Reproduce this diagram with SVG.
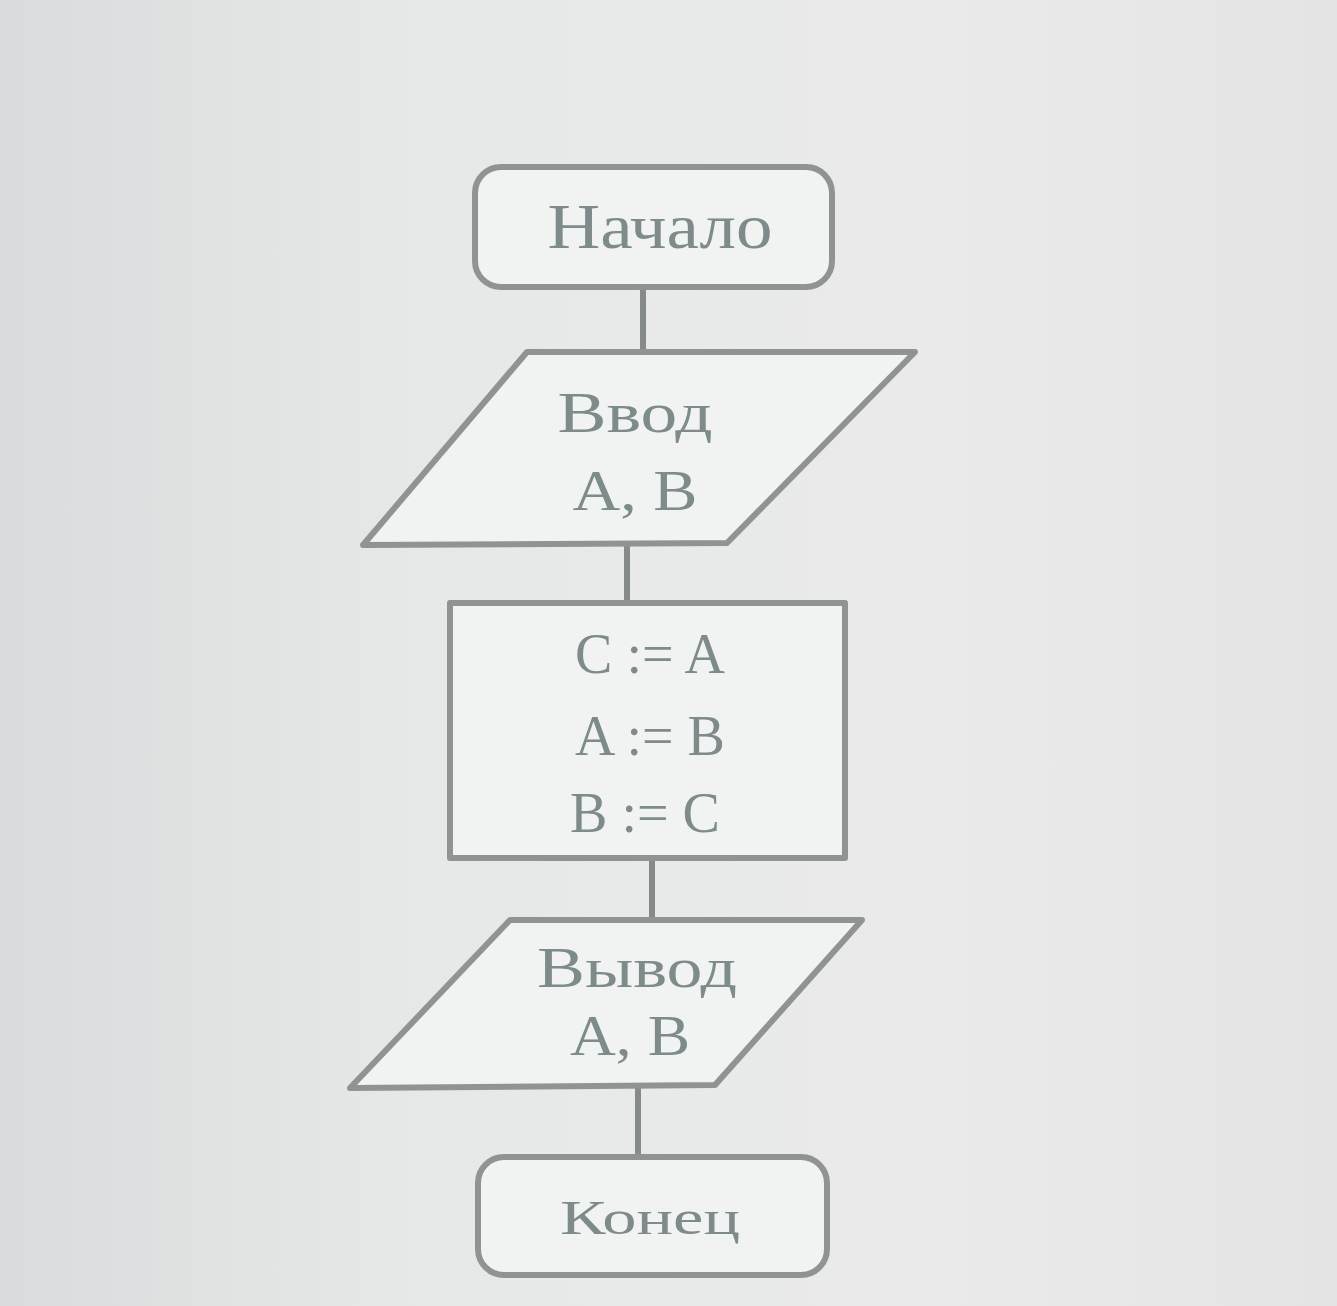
<svg xmlns="http://www.w3.org/2000/svg" width="1337" height="1306" viewBox="0 0 1337 1306">
  <defs>
    <linearGradient id="bg" x1="0" y1="0" x2="1" y2="0">
      <stop offset="0" stop-color="#d9dcdc"/>
      <stop offset="0.3" stop-color="#e6e8e8"/>
      <stop offset="0.7" stop-color="#eaeaea"/>
      <stop offset="1" stop-color="#e4e4e4"/>
    </linearGradient>
    <style>
      .shape { fill: #f1f2f2; stroke: #909393; stroke-width: 6; stroke-linejoin: round; }
      .edge { stroke: #858a8a; stroke-width: 6; fill: none; }
      .lbl { font-family: "Liberation Serif", "Times New Roman", serif; fill: #7d8b8b; text-anchor: middle; }
      .big { font-size: 64px; }
      .mid { font-size: 56px; }
      .small { font-size: 48px; }
    </style>
  </defs>
  <rect x="0" y="0" width="1337" height="1306" fill="url(#bg)"/>

  <g id="connectors">
    <line class="edge" x1="643" y1="287" x2="643" y2="352"/>
    <line class="edge" x1="627" y1="545" x2="627" y2="603"/>
    <line class="edge" x1="652" y1="858" x2="652" y2="920"/>
    <line class="edge" x1="638" y1="1088" x2="638" y2="1158"/>
  </g>

  <g id="start">
    <rect class="shape" x="475" y="167" width="357" height="120" rx="26" ry="26"/>
    <text class="lbl big" x="660" y="248" textLength="225" lengthAdjust="spacingAndGlyphs">Начало</text>
  </g>

  <g id="input">
    <polygon class="shape" points="527,352 915,352 727,543 363,545"/>
    <text class="lbl mid" x="635" y="432" textLength="155" lengthAdjust="spacingAndGlyphs">Ввод</text>
    <text class="lbl mid" x="635" y="510" textLength="125" lengthAdjust="spacingAndGlyphs">A, B</text>
  </g>

  <g id="process">
    <rect class="shape" x="450" y="603" width="395" height="255"/>
    <text class="lbl mid" x="650" y="673">C := A</text>
    <text class="lbl mid" x="650" y="755">A := B</text>
    <text class="lbl mid" x="645" y="832">B := C</text>
  </g>

  <g id="output">
    <polygon class="shape" points="510,920 862,920 715,1085 350,1088"/>
    <text class="lbl mid" x="637" y="987" textLength="200" lengthAdjust="spacingAndGlyphs">Вывод</text>
    <text class="lbl mid" x="630" y="1055" textLength="120" lengthAdjust="spacingAndGlyphs">A, B</text>
  </g>

  <g id="end">
    <rect class="shape" x="478" y="1157" width="349" height="118" rx="26" ry="26"/>
    <text class="lbl small" x="650" y="1234" textLength="180" lengthAdjust="spacingAndGlyphs">Конец</text>
  </g>
</svg>
